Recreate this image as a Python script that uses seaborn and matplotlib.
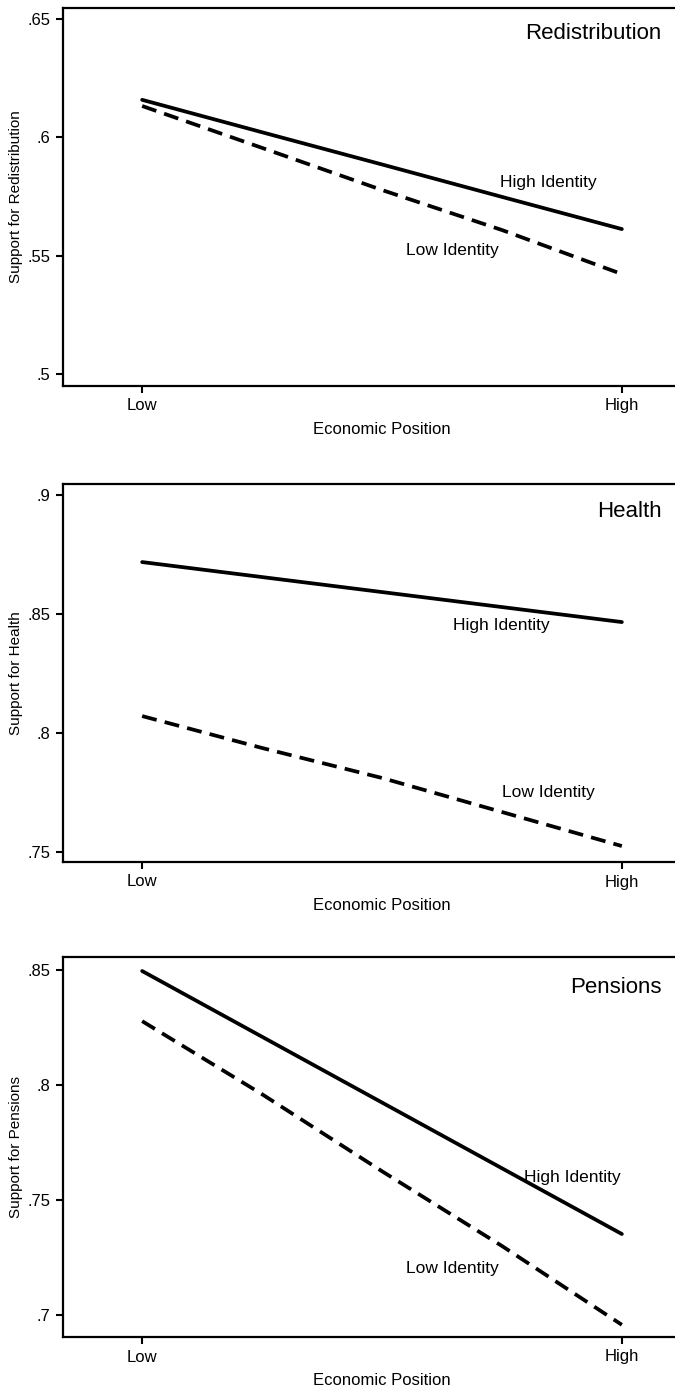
import numpy as np
import pandas as pd
import matplotlib
matplotlib.use("Agg")
import matplotlib.pyplot as plt
import seaborn as sns

# --- data ---
econ_pos = [0, 0.25, 0.5, 0.75, 1]
tick_labels = ["Low", "High"]

redis_high = [0.6158, 0.6021, 0.5885, 0.5748, 0.5612]
redis_low = [0.6132, 0.5955, 0.5777, 0.5608, 0.5422]

health_high = [0.8718, 0.8655, 0.8592, 0.8529, 0.8466]
health_low = [0.8071, 0.7937, 0.7811, 0.7668, 0.7525]

pens_high = [0.8496, 0.8210, 0.7924, 0.7638, 0.7352]
pens_low = [0.8278, 0.7960, 0.7625, 0.7300, 0.6957]

panels = [
    ("Redistribution", redis_high, redis_low, (0.4949, 0.6546), [0.5, 0.55, 0.6, 0.65],
     [".5", ".55", ".6", ".65"], (0.846, 0.5807), (0.646, 0.552), 0.6437),
    ("Health", health_high, health_low, (0.7458, 0.9046), [0.75, 0.8, 0.85, 0.9],
     [".75", ".8", ".85", ".9"], (0.748, 0.845), (0.846, 0.7752), 0.8929),
    ("Pensions", pens_high, pens_low, (0.6904, 0.8557), [0.7, 0.75, 0.8, 0.85],
     [".7", ".75", ".8", ".85"], (0.896, 0.7596), (0.646, 0.72), 0.8426),
]

sns.set_theme(style="white")
plt.rcParams["font.family"] = ["Liberation Sans", "DejaVu Sans"]
plt.rcParams["text.color"] = "black"
plt.rcParams["axes.labelcolor"] = "black"
plt.rcParams["xtick.color"] = "black"
plt.rcParams["ytick.color"] = "black"

W, H = 675, 1394
fig = plt.figure(figsize=(W / 100, H / 100), dpi=100)

# axes boxes in pixels: (top, bottom); right side runs past the page edge
boxes = [(8, 386), (484, 862), (957, 1337)]
left_px, right_px = 63, 701

for (name, hi, lo, ylim, yt, ytl, hpos, lpos, ty), (top, bot) in zip(panels, boxes):
    ax = fig.add_axes([left_px / W, 1 - bot / H, (right_px - left_px) / W, (bot - top) / H])
    df = pd.DataFrame({
        "x": econ_pos * 2,
        "value": hi + lo,
        "identity": ["High"] * len(hi) + ["Low"] * len(lo),
    })
    sns.lineplot(data=df, x="x", y="value", style="identity",
                 dashes={"High": "", "Low": (4, 2.2)}, color="black",
                 linewidth=2.7, legend=False, ax=ax)

    ax.set_xlim(-0.165, 1.165)
    ax.set_ylim(*ylim)
    ax.set_xticks([0, 1])
    ax.set_xticklabels(tick_labels)
    ax.set_yticks(yt)
    ax.set_yticklabels(ytl)
    ax.tick_params(axis="both", direction="out", length=5, width=1.5,
                   labelsize=12, pad=4, color="black", labelcolor="black",
                   left=True, bottom=True)
    for sp in ax.spines.values():
        sp.set_linewidth(1.6)
        sp.set_color("black")

    ax.set_xlabel("Economic Position", fontsize=12)
    ax.set_ylabel("Support for " + name, fontsize=11)
    ax.xaxis.set_label_coords(0.5, -0.095)
    ax.yaxis.set_label_coords(-0.062, 0.5)

    ax.text(hpos[0], hpos[1], "High Identity", ha="center", va="center", fontsize=12.5)
    ax.text(lpos[0], lpos[1], "Low Identity", ha="center", va="center", fontsize=12.5)
    ax.text(1.083, ty, name, ha="right", va="center", fontsize=16)

fig.savefig("out.png", dpi=100)
